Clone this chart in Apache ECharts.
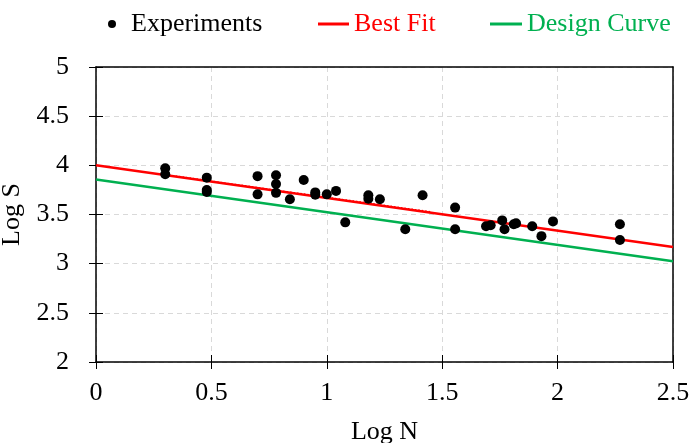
<!DOCTYPE html>
<html>
<head>
<meta charset="utf-8">
<script src="https://cdn.jsdelivr.net/npm/echarts@6/dist/echarts.min.js"></script>
<style>
  html, body { margin: 0; padding: 0; background: #fff; }
  #chart { width: 690px; height: 443px; }
</style>
</head>
<body>
<div id="chart"></div>
<script>
// Fatigue data: Log N (cycles) vs Log S (stress)
const expLogN = [0.30, 0.30, 0.48, 0.48, 0.48, 0.70, 0.70, 0.78, 0.78, 0.78, 0.84, 0.90, 0.95, 0.95,
                 1.00, 1.04, 1.08, 1.18, 1.18, 1.23, 1.34, 1.415, 1.556, 1.556, 1.69, 1.71, 1.76, 1.77,
                 1.81, 1.82, 1.89, 1.93, 1.98, 2.27, 2.27];
const expLogS = [3.97, 3.91, 3.875, 3.75, 3.73, 3.89, 3.705, 3.90, 3.81, 3.72, 3.655, 3.85, 3.725, 3.70,
                 3.705, 3.74, 3.42, 3.695, 3.66, 3.655, 3.35, 3.695, 3.57, 3.35, 3.38, 3.39, 3.44, 3.35,
                 3.40, 3.41, 3.38, 3.28, 3.43, 3.40, 3.24];

// Straight lines given by their end points
const fitLogN = [0, 2.5];
const fitLogS = [4.00, 3.17];
const designLogN = [0, 2.5];
const designLogS = [3.855, 3.025];
// Dotted trend over the early part of the data range
const trendLogN = [0.30, 1.45];
const trendLogS = [3.905, 3.527];

const xTicks = { min: 0, max: 2.5, interval: 0.5 };
const yTicks = { min: 2, max: 5, interval: 0.5 };

const RED = '#ff0000';
const GREEN = '#00b050';
const FONT = "'Liberation Serif', 'Times New Roman', serif";

const pairs = (xs, ys) => xs.map((x, i) => [x, ys[i]]);

const chart = echarts.init(document.getElementById('chart'), null, { renderer: 'canvas' });

const gridLine = { show: true, lineStyle: { color: '#d9d9d9', type: [5, 4], width: 1 } };
const tick = { color: '#000', width: 1 };
// Frame-only axis (top / right edges of the plot box)
const frameAxis = (position, range) => ({
  type: 'value', position, ...range,
  axisLine: { show: true, onZero: false, lineStyle: { color: '#000', width: 1.5 } },
  axisTick: { show: false }, axisLabel: { show: false }, splitLine: { show: false }
});
// Inner half of the crossing tick marks
const innerTicks = (position, range) => ({
  type: 'value', position, ...range,
  axisLine: { show: false }, axisLabel: { show: false }, splitLine: { show: false },
  axisTick: { show: true, inside: true, length: 7, lineStyle: tick }
});

chart.setOption({
  animation: false,
  backgroundColor: '#fff',
  textStyle: { fontFamily: FONT },
  grid: { left: 96, right: 17, top: 67, bottom: 81, containLabel: false, outerBoundsMode: 'none' },
  legend: [
    {
      left: 103, top: 6, itemWidth: 28, itemHeight: 8,
      data: [{ name: 'Experiments', icon: 'circle', itemStyle: { color: '#000' } }],
      textStyle: { fontFamily: FONT, fontSize: 26, color: '#000' }
    },
    {
      left: 313, top: 6, itemWidth: 31, itemHeight: 3,
      data: [{ name: 'Best Fit', icon: 'rect', itemStyle: { color: RED } }],
      textStyle: { fontFamily: FONT, fontSize: 26, color: RED }
    },
    {
      left: 485, top: 6, itemWidth: 32, itemHeight: 3,
      data: [{ name: 'Design Curve', icon: 'rect', itemStyle: { color: GREEN } }],
      textStyle: { fontFamily: FONT, fontSize: 26, color: GREEN }
    }
  ],
  xAxis: [
    {
      type: 'value', position: 'bottom', ...xTicks,
      name: 'Log N', nameLocation: 'middle', nameGap: 57,
      nameTextStyle: { fontFamily: FONT, fontSize: 26, color: '#000' },
      axisLine: { show: true, onZero: false, lineStyle: { color: '#000', width: 1.5 } },
      axisTick: { show: true, length: 7, lineStyle: tick },
      axisLabel: { fontFamily: FONT, fontSize: 26, color: '#000', margin: 18 },
      splitLine: gridLine
    },
    innerTicks('bottom', xTicks),
    frameAxis('top', xTicks)
  ],
  yAxis: [
    {
      type: 'value', position: 'left', ...yTicks,
      name: 'Log S', nameLocation: 'middle', nameGap: 67, nameRotate: 90,
      nameTextStyle: { fontFamily: FONT, fontSize: 26, color: '#000' },
      axisLine: { show: true, onZero: false, lineStyle: { color: '#000', width: 1.5 } },
      axisTick: { show: true, length: 7, lineStyle: tick },
      axisLabel: { fontFamily: FONT, fontSize: 26, color: '#000', margin: 27,
                   formatter: v => String(v) },
      splitLine: gridLine
    },
    innerTicks('left', yTicks),
    frameAxis('right', yTicks)
  ],
  series: [
    {
      name: 'Best Fit', type: 'line', data: pairs(fitLogN, fitLogS),
      symbol: 'none', lineStyle: { color: RED, width: 2.5 }, itemStyle: { color: RED }, z: 3
    },
    {
      name: 'trend', type: 'line', data: pairs(trendLogN, trendLogS),
      symbol: 'none', lineStyle: { color: RED, width: 1.5, type: [1.5, 2] }, z: 3
    },
    {
      name: 'Design Curve', type: 'line', data: pairs(designLogN, designLogS),
      symbol: 'none', lineStyle: { color: GREEN, width: 2.5 }, itemStyle: { color: GREEN }, z: 3
    },
    {
      name: 'Experiments', type: 'scatter', data: pairs(expLogN, expLogS),
      symbol: 'circle', symbolSize: 10, itemStyle: { color: '#000', opacity: 1 }, z: 5
    }
  ]
});
</script>
</body>
</html>
